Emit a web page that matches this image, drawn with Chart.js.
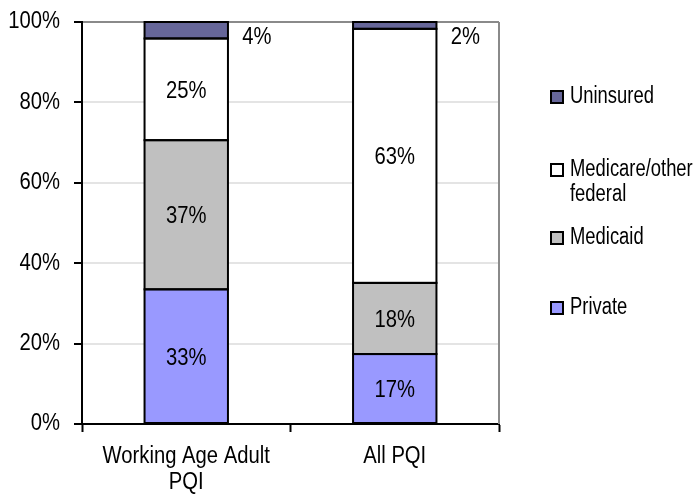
<!DOCTYPE html>
<html>
<head>
<meta charset="utf-8">
<script src="https://cdn.jsdelivr.net/npm/chart.js@4.4.1/dist/chart.umd.min.js"></script>
<style>
html,body{margin:0;padding:0;background:#fff;}
#wrap{width:700px;height:495px;position:relative;}
</style>
</head>
<body>
<div id="wrap"><canvas id="c" width="700" height="495"></canvas></div>
<script>
// ---- data ----
const categories = [["Working Age Adult", "PQI"], "All PQI"];
const seriesNames = ["Private", "Medicaid", "Medicare/other federal", "Uninsured"];
const legendLines = [["Private"], ["Medicaid"], ["Medicare/other", "federal"], ["Uninsured"]];
const privateVals = [33.5, 17.4];
const medicaidVals = [37.1, 17.7];
const medicareVals = [25.3, 63.2];
const uninsuredVals = [4.1, 1.7];
const valueLabels = [["33%", "17%"], ["37%", "18%"], ["25%", "63%"], ["4%", "2%"]];
const yTicks = [0, 20, 40, 60, 80, 100];

const FONT = '"Liberation Sans", Arial, sans-serif';
const NARROW = 0.88;
const colors = ["#9999ff", "#c0c0c0", "#ffffff", "#666699"];
const allVals = [privateVals, medicaidVals, medicareVals, uninsuredVals];

const canvas = document.getElementById("c");
const ctx0 = canvas.getContext("2d");
// emulate a narrow (condensed) face: squeeze every drawn string horizontally
const origFill = ctx0.fillText;
ctx0.fillText = function (t, x, y, mw) {
  const w = this.measureText(t).width * NARROW;
  return origFill.call(this, t, x, y, mw !== undefined ? Math.min(mw, w) : w);
};

const datasets = seriesNames.map((n, i) => ({
  label: n,
  data: allVals[i],
  backgroundColor: colors[i],
  borderWidth: 0,
  barPercentage: 0.8,
  categoryPercentage: 0.5
}));

const extras = {
  id: "extras",
  afterDatasetsDraw(chart) {
    const ctx = chart.ctx;
    const a = chart.chartArea;
    // bar outlines
    ctx.save();
    ctx.strokeStyle = "#000";
    ctx.lineWidth = 2;
    chart.data.datasets.forEach((ds, di) => {
      chart.getDatasetMeta(di).data.forEach(bar => {
        const l = bar.x - bar.width / 2, r = bar.x + bar.width / 2;
        const t = Math.min(bar.y, bar.base), b = Math.max(bar.y, bar.base);
        ctx.strokeRect(l, t, r - l, b - t);
      });
    });
    ctx.restore();
    // right border
    ctx.save();
    ctx.strokeStyle = "#8a8a8a";
    ctx.lineWidth = 2;
    ctx.beginPath();
    ctx.moveTo(a.right, a.top);
    ctx.lineTo(a.right, a.bottom);
    ctx.stroke();
    ctx.restore();
    // value labels
    ctx.save();
    ctx.font = "23px " + FONT;
    ctx.fillStyle = "#000";
    ctx.textAlign = "center";
    ctx.textBaseline = "middle";
    chart.data.datasets.forEach((ds, di) => {
      const meta = chart.getDatasetMeta(di);
      meta.data.forEach((bar, j) => {
        const txt = valueLabels[di][j];
        if (di === 3) {
          ctx.fillText(txt, bar.x + bar.width / 2 + 29, a.top + 16);
        } else {
          ctx.fillText(txt, bar.x, (bar.y + bar.base) / 2 + 2);
        }
      });
    });
    ctx.restore();
    // legend
    ctx.save();
    const ys = [308, 238, 170, 97];
    ctx.font = "23px " + FONT;
    ctx.textAlign = "left";
    ctx.textBaseline = "middle";
    seriesNames.forEach((n, i) => {
      const y = ys[i];
      ctx.fillStyle = colors[i];
      ctx.fillRect(551, y - 6, 12, 12);
      ctx.strokeStyle = "#000";
      ctx.lineWidth = 2;
      ctx.strokeRect(551, y - 6, 12, 12);
      ctx.fillStyle = "#000";
      legendLines[i].forEach((line, k) => {
        ctx.fillText(line, 570, y + k * 25, ctx.measureText(line).width * 0.8);
      });
    });
    ctx.restore();
  }
};

new Chart(canvas, {
  type: "bar",
  data: { labels: categories, datasets },
  options: {
    responsive: false,
    animation: false,
    events: [],
    layout: { padding: { top: 22, right: 201, left: 0, bottom: 0 } },
    plugins: { legend: { display: false }, tooltip: { enabled: false } },
    scales: {
      x: {
        stacked: true,
        offset: true,
        border: { display: true, color: "#000", width: 2 },
        grid: { display: true, offset: true, drawOnChartArea: false, drawTicks: true, tickLength: 8, tickColor: "#000", tickWidth: 2, color: "#000" },
        ticks: { color: "#000", font: { family: FONT, size: 23, lineHeight: 1.12 }, padding: 12, maxRotation: 0, autoSkip: false },
        afterFit(s) { s.height = 71; }
      },
      y: {
        stacked: true,
        min: 0, max: 100,
        afterBuildTicks(s) { s.ticks = yTicks.map(v => ({ value: v })); },
        border: { display: true, color: "#000", width: 2 },
        grid: {
          color: (c) => (c.tick && c.tick.value === 100) ? "#8a8a8a" : "#e4e4e4",
          lineWidth: 2,
          tickLength: 8, tickColor: "#000", tickWidth: 2
        },
        ticks: { color: "#000", font: { family: FONT, size: 23 }, padding: 14, callback: v => v + "%" },
        afterFit(s) { s.width = 82; s.paddingTop = 0; s.paddingBottom = 0; }
      }
    }
  },
  plugins: [extras]
});
</script>
</body>
</html>
